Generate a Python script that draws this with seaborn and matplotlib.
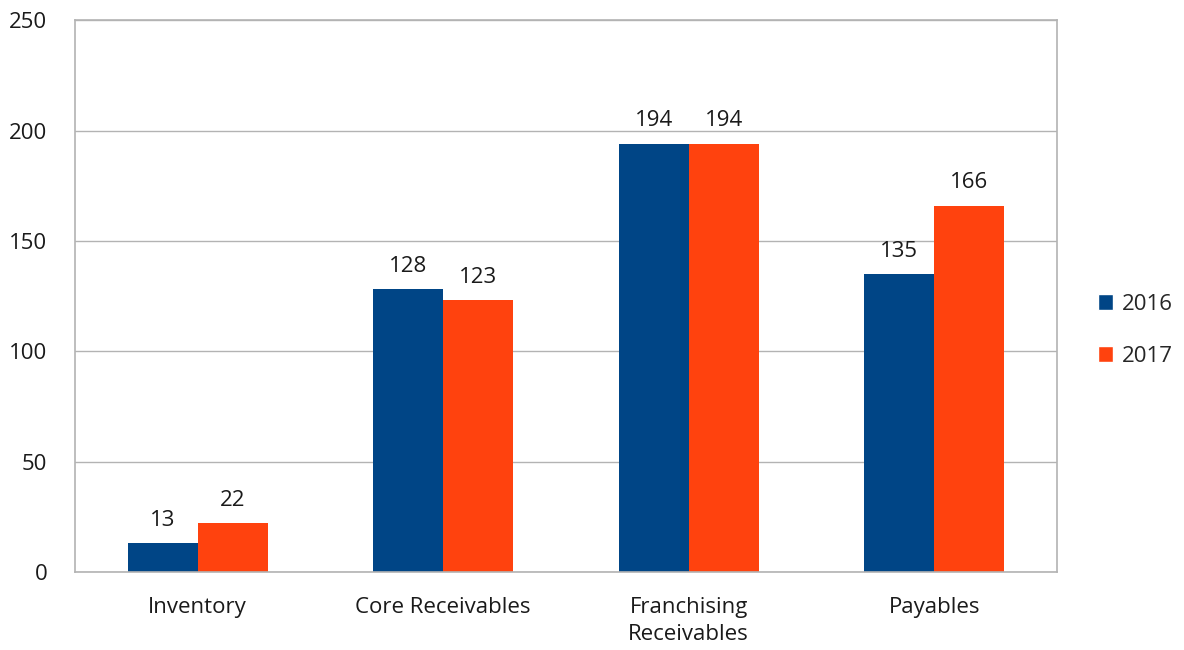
import matplotlib
matplotlib.use("Agg")
import matplotlib.pyplot as plt
import seaborn as sns
import pandas as pd
from matplotlib.patches import Patch

categories = ["Inventory", "Core Receivables", "Franchising\nReceivables", "Payables"]
values_2016 = [13, 128, 194, 135]
values_2017 = [22, 123, 194, 166]
series = ["2016", "2017"]
colors = ["#004586", "#ff420e"]
yticks = [0, 50, 100, 150, 200, 250]

df = pd.DataFrame({
    "category": categories * 2,
    "value": values_2016 + values_2017,
    "year": [series[0]] * 4 + [series[1]] * 4,
})

sns.set_style("white")
plt.rcParams["font.family"] = ["Open Sans", "DejaVu Sans"]

fig = plt.figure(figsize=(11.84, 6.5), dpi=100)
ax = fig.add_axes([0.0633, 0.12, 0.8294, 0.849])
sns.barplot(data=df, x="category", y="value", hue="year", palette=colors,
            width=0.57, gap=0, saturation=1, ax=ax, legend=False, errorbar=None,
            linewidth=0)

for c in ax.containers:
    ax.bar_label(c, labels=[f"{v:g}" for v in c.datavalues], padding=9, fontsize=16, color="#1a1a1a")

ax.set_ylim(0, 250)
ax.set_xlim(-0.5, 3.5)
ax.set_yticks(yticks)
ax.yaxis.grid(True, color="#b3b3b3", linewidth=1)
ax.set_axisbelow(True)
ax.set_xlabel("")
ax.set_ylabel("")
for s in ax.spines.values():
    s.set_visible(True)
    s.set_color("#b3b3b3")
    s.set_linewidth(1.2)
ax.tick_params(axis="both", length=0, labelsize=16, colors="#1a1a1a")
ax.tick_params(axis="y", pad=20)
ax.tick_params(axis="x", pad=18)
for t in ax.get_xticklabels():
    t.set_linespacing(1.35)

handles = [Patch(facecolor=colors[i], label=series[i]) for i in range(2)]
fig.legend(handles=handles, loc="center left", bbox_to_anchor=(0.927, 0.492),
           frameon=False, fontsize=16, handlelength=0.7, handleheight=0.7,
           handletextpad=0.4, labelspacing=1.4, borderpad=0, borderaxespad=0)

fig.savefig("out.png", dpi=100)
